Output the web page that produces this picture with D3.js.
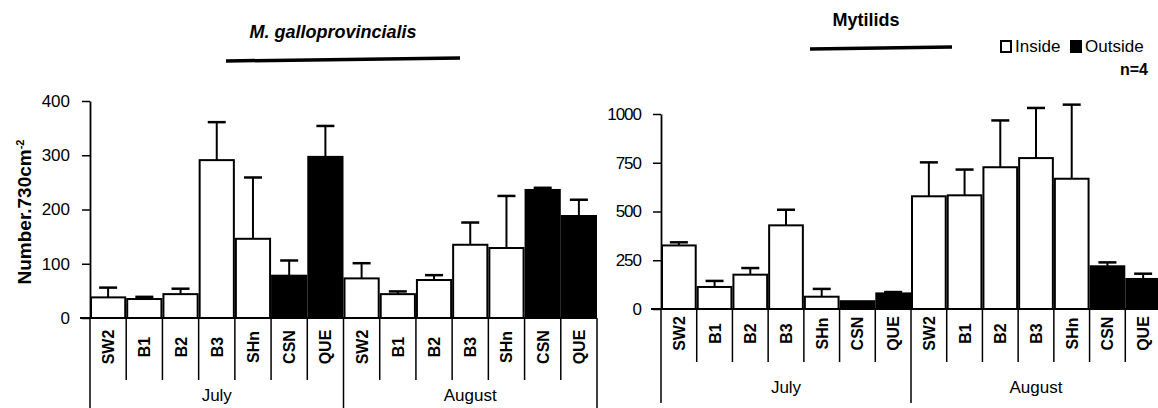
<!DOCTYPE html>
<html>
<head>
<meta charset="utf-8">
<script src="https://cdn.jsdelivr.net/npm/d3@7"></script>
<style>
  html, body { margin: 0; padding: 0; background: #fff; }
  svg { display: block; font-family: Arial, "Liberation Sans", sans-serif; }
</style>
</head>
<body>
<svg id="chart" width="1158" height="408"></svg>
<script>
// Sampling sites, in plotting order, and the two sampling months
const sites = ["SW2", "B1", "B2", "B3", "SHn", "CSN", "QUE"];
const months = ["July", "August"];
// Sites outside the protected area (drawn in black)
const outsideSites = ["CSN", "QUE"];

// M. galloprovincialis: mean abundance (number per 730 cm²) and standard error
const galloJuly = [38, 35, 44, 291, 146, 78, 297];
const galloJulySE = [18, 4, 10, 70, 113, 28, 57];
const galloAugust = [73, 44, 70, 135, 129, 236, 188];
const galloAugustSE = [28, 5, 9, 41, 96, 4, 30];

// Mytilids: mean abundance and standard error
const mytJuly = [326, 113, 176, 429, 63, 40, 80];
const mytJulySE = [16, 31, 34, 80, 40, 0, 7];
const mytAugust = [578, 583, 727, 774, 668, 219, 154];
const mytAugustSE = [174, 132, 240, 257, 380, 20, 27];

// Axis ticks
const galloTicks = [0, 100, 200, 300, 400];
const mytTicks = [0, 250, 500, 750, 1000];

const legendItems = ["Inside", "Outside"];

function rows(july, julySE, aug, augSE) {
  const out = [];
  [[july, julySE], [aug, augSE]].forEach(([vals, se], mi) => {
    sites.forEach((s, i) => out.push({
      key: months[mi] + "-" + s, site: s, month: months[mi],
      value: vals[i], se: se[i], outside: outsideSites.includes(s)
    }));
  });
  return out;
}

const svg = d3.select("#chart");

function drawPanel(opt) {
  const data = rows(...opt.series);
  const g = svg.append("g");
  const x = d3.scaleBand().domain(data.map(d => d.key)).range([opt.x0, opt.x1]).padding(0);
  const y = d3.scaleLinear().domain([0, d3.max(opt.ticks)]).range([opt.y0, opt.yTop]);

  // error bars (upper whisker only)
  const eb = g.append("g").attr("stroke", "#000").attr("stroke-width", 2);
  data.filter(d => d.se > 0).forEach(d => {
    const cx = x(d.key) + x.bandwidth() / 2;
    eb.append("line").attr("x1", cx).attr("x2", cx).attr("y1", y(d.value)).attr("y2", y(d.value + d.se));
    eb.append("line").attr("x1", cx - 9).attr("x2", cx + 9).attr("y1", y(d.value + d.se)).attr("y2", y(d.value + d.se))
      .attr("stroke-width", 2.5);
  });

  // bars
  g.append("g").selectAll("rect").data(data).join("rect")
    .attr("x", d => x(d.key) + 1)
    .attr("width", x.bandwidth() - 2)
    .attr("y", d => y(d.value))
    .attr("height", d => opt.y0 - y(d.value))
    .attr("fill", d => d.outside ? "#000" : "#fff")
    .attr("stroke", "#000")
    .attr("stroke-width", 2);

  // value axis
  const ax = g.append("g").attr("transform", `translate(${opt.x0},0)`)
    .call(d3.axisLeft(y).tickValues(opt.ticks).tickFormat(d3.format("d"))
      .tickSize(8).tickPadding(12).tickSizeOuter(0));
  ax.select(".domain").attr("stroke-width", 1.8);
  ax.selectAll(".tick line").attr("stroke-width", 1.5);
  ax.selectAll(".tick text").attr("font-size", 17).attr("fill", "#000")
    .attr("font-family", "Arial, 'Liberation Sans', sans-serif")
    .attr("letter-spacing", opt.tickSpacing || 0);

  // zero line
  g.append("line").attr("x1", opt.x0 - 10).attr("x2", opt.x1).attr("y1", opt.y0).attr("y2", opt.y0)
    .attr("stroke", "#000").attr("stroke-width", 2);

  // category table below the plot
  const tbl = g.append("g").attr("stroke", "#000").attr("stroke-width", 1.5);
  const bounds = data.map(d => x(d.key)).concat([opt.x1]);
  bounds.forEach((bx, i) => {
    const long = (i % 7 === 0);
    tbl.append("line").attr("x1", bx).attr("x2", bx).attr("y1", opt.y0)
      .attr("y2", long ? opt.tableBottom : opt.siteBottom);
  });

  g.append("g").selectAll("text").data(data).join("text")
    .attr("transform", d => `translate(${x(d.key) + x.bandwidth() / 2 + 6},${(opt.y0 + opt.siteBottom) / 2 - 2}) rotate(-90)`)
    .attr("text-anchor", "middle")
    .attr("font-size", 16).attr("font-weight", "bold")
    .text(d => d.site);

  g.append("g").selectAll("text").data(months).join("text")
    .attr("x", (m, i) => {
      const first = x(m + "-" + sites[0]);
      return first + 3.5 * x.bandwidth();
    })
    .attr("y", opt.monthY)
    .attr("text-anchor", "middle")
    .attr("font-size", 17)
    .text(m => m);

  // title with underline
  svg.append("text").attr("x", opt.titleX).attr("y", opt.titleY)
    .attr("text-anchor", "middle").attr("font-size", 18).attr("font-weight", "bold")
    .attr("font-style", opt.titleItalic ? "italic" : "normal")
    .text(opt.title);
  svg.append("line").attr("x1", opt.rule[0]).attr("x2", opt.rule[1])
    .attr("y1", opt.rule[2]).attr("y2", opt.rule[3])
    .attr("stroke", "#000").attr("stroke-width", 3.5);

  return { x, y, g };
}

drawPanel({
  series: [galloJuly, galloJulySE, galloAugust, galloAugustSE],
  ticks: galloTicks, x0: 90, x1: 597, y0: 318, yTop: 101,
  siteBottom: 380, tableBottom: 408, monthY: 401,
  title: "M. galloprovincialis", titleItalic: true, titleX: 333, titleY: 38,
  rule: [226, 460, 61, 58]
});

drawPanel({
  series: [mytJuly, mytJulySE, mytAugust, mytAugustSE],
  ticks: mytTicks, x0: 661, x1: 1161, y0: 309, yTop: 114,
  siteBottom: 362, tableBottom: 403, monthY: 393, tickSpacing: -1,
  title: "Mytilids", titleItalic: false, titleX: 866, titleY: 26,
  rule: [810, 952, 49, 47]
});

// value axis title
const yt = svg.append("text")
  .attr("transform", "translate(31,212) rotate(-90)")
  .attr("text-anchor", "middle")
  .attr("font-size", 19).attr("font-weight", "bold");
yt.append("tspan").text("Number.730cm");
yt.append("tspan").attr("font-size", 11).attr("dy", -7).text("-2");

// legend
const lg = svg.append("g").attr("transform", "translate(1001,47)");
const lgX = [0, 70];
legendItems.forEach((name, i) => {
  lg.append("rect").attr("x", lgX[i]).attr("y", -6).attr("width", 10).attr("height", 11)
    .attr("fill", i === 0 ? "#fff" : "#000").attr("stroke", "#000").attr("stroke-width", 2);
  lg.append("text").attr("x", lgX[i] + 14).attr("y", 5).attr("font-size", 17).text(name);
});
svg.append("text").attr("x", 1120).attr("y", 75).attr("font-size", 16).attr("font-weight", "bold").text("n=4");
</script>
</body>
</html>
